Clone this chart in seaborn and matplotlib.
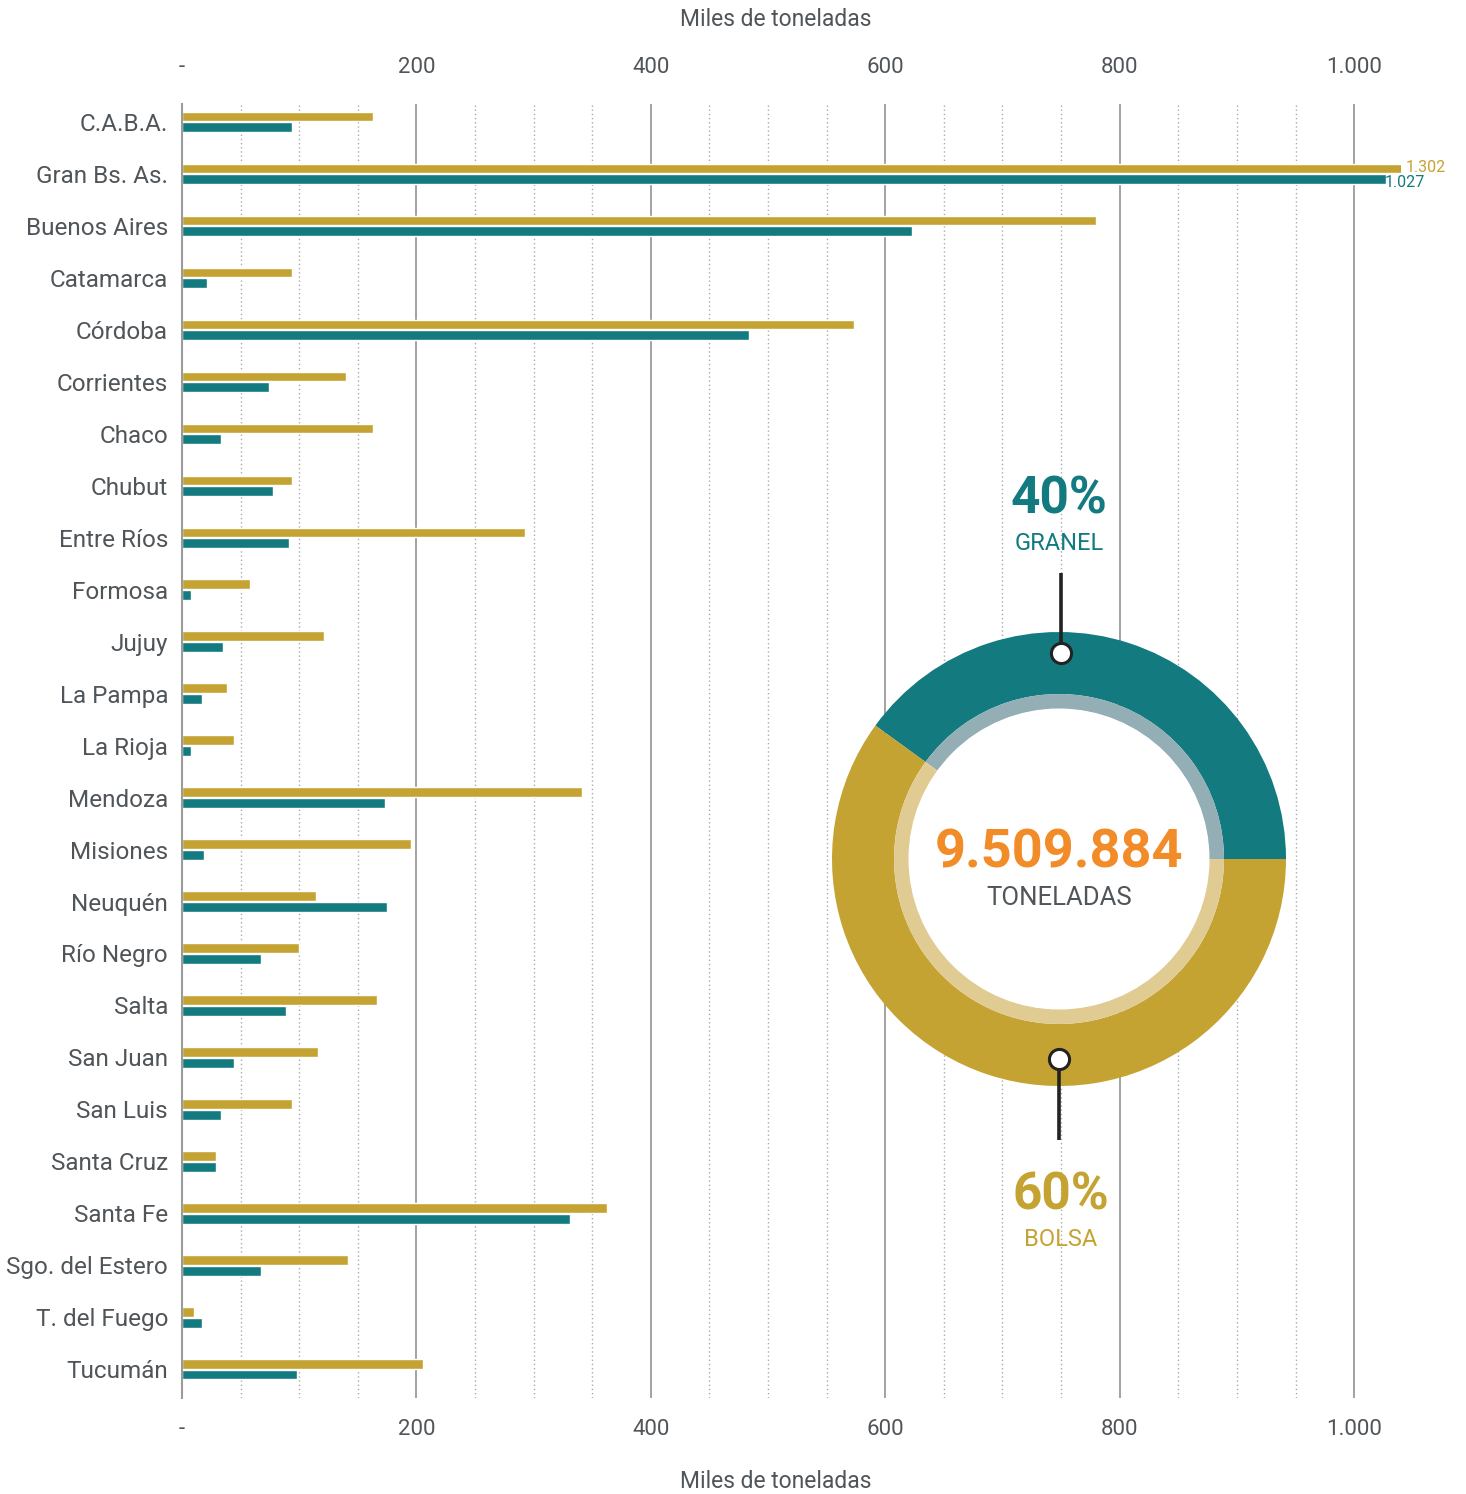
import numpy as np
import pandas as pd
import matplotlib
matplotlib.use("Agg")
import matplotlib.pyplot as plt
import seaborn as sns
from matplotlib.ticker import FixedLocator, MultipleLocator
from matplotlib.patches import Circle

# ---------------- data ----------------
provincias = ["C.A.B.A.", "Gran Bs. As.", "Buenos Aires", "Catamarca", "Córdoba",
              "Corrientes", "Chaco", "Chubut", "Entre Ríos", "Formosa", "Jujuy",
              "La Pampa", "La Rioja", "Mendoza", "Misiones", "Neuquén", "Río Negro",
              "Salta", "San Juan", "San Luis", "Santa Cruz", "Santa Fe",
              "Sgo. del Estero", "T. del Fuego", "Tucumán"]
bolsa = [163, 1302, 780, 94, 573, 140, 163, 94, 293, 58, 121, 38, 44, 341, 195,
         114, 100, 166, 116, 94, 29, 363, 142, 10, 206]
granel = [94, 1027, 623, 21, 484, 74, 33, 78, 91, 8, 35, 17, 8, 173, 19,
          175, 67, 89, 44, 33, 29, 331, 67, 17, 98]
x_ticks = [0, 200, 400, 600, 800, 1000]
x_tick_labels = ["-", "200", "400", "600", "800", "1.000"]
axis_label = "Miles de toneladas"
donut_labels = ["GRANEL", "BOLSA"]
donut_shares = [40, 60]
total_label = "9.509.884"
total_unit = "TONELADAS"

GOLD = "#C5A332"
TEAL = "#137A80"
GOLD_L = "#E0CB93"
TEAL_L = "#93AFB5"
ORANGE = "#F28C28"
TXT = "#505559"

sns.set_theme(style="white")
plt.rcParams['font.family'] = ['Roboto', 'DejaVu Sans']

W, H = 1466, 1494
fig = plt.figure(figsize=(W / 100, H / 100), dpi=100)
fig.patch.set_facecolor("white")

ax = fig.add_axes([182 / W, 1 - 1398 / H, (1401 - 182) / W, (1398 - 104) / H])

df = pd.DataFrame({
    "provincia": provincias * 2,
    "tipo": ["Bolsa"] * len(provincias) + ["Granel"] * len(provincias),
    "valor": bolsa + granel,
})
sns.barplot(data=df, y="provincia", x="valor", hue="tipo", hue_order=["Bolsa", "Granel"],
            palette=[GOLD, TEAL], orient="h", width=0.4, gap=0.06, saturation=1,
            legend=False, ax=ax, order=provincias)

ax.set_xlim(0, 1040)
ax.set_ylim(24.55, -0.34)
ax.set_axisbelow(True)
ax.xaxis.set_major_locator(FixedLocator(x_ticks))
ax.xaxis.set_minor_locator(MultipleLocator(50))
ax.grid(which="major", axis="x", color="#9b9b9b", lw=1.3, ls="-")
ax.grid(which="minor", axis="x", color="#ababab", lw=1.0, ls=(0, (1, 2)))
ax.grid(which="both", axis="y", visible=False)
for s in ["top", "right", "bottom"]:
    ax.spines[s].set_visible(False)
ax.spines["left"].set_color("#9b9b9b")
ax.spines["left"].set_linewidth(1.5)

ax.set_xticks(x_ticks)
ax.set_xticklabels(x_tick_labels)
ax.set_xlabel("")
ax.set_ylabel("")
ax.tick_params(axis="x", which="both", length=0, labelsize=16, labelcolor=TXT, pad=15)
ax.tick_params(axis="y", length=0, labelsize=17.5, labelcolor=TXT, pad=10)

sec = ax.secondary_xaxis("top")
sec.set_xticks(x_ticks)
sec.set_xticklabels(x_tick_labels)
sec.tick_params(axis="x", length=0, labelsize=16, labelcolor=TXT, pad=19)
sec.spines["top"].set_visible(False)

fig.text(776 / W, 1 - 19 / H, axis_label, ha="center", va="center", fontsize=16.5, color=TXT)
fig.text(776 / W, 1 - 1481 / H, axis_label, ha="center", va="center", fontsize=16.5, color=TXT)

# value labels for the clipped bars (Gran Bs. As.)
i = 1
fmt = lambda v: f"{v:,}".replace(",", ".")
ax.text(1044, i - 0.12, fmt(bolsa[i]), color=GOLD, fontsize=11.5, va="center", ha="left", clip_on=False)
ax.text(granel[i] - 1.0, i + 0.17, fmt(granel[i]), color=TEAL, fontsize=11.5, va="center", ha="left", clip_on=False)

# ---------------- donut ----------------
dax = fig.add_axes([820 / W, 1 - 1270 / H, 480 / W, 810 / H])
dax.pie(donut_shares, colors=[TEAL, GOLD], startangle=0, counterclock=True, radius=227,
        wedgeprops=dict(width=62, linewidth=0))
dax.pie(donut_shares, colors=[TEAL_L, GOLD_L], startangle=0, counterclock=True, radius=165,
        wedgeprops=dict(width=15, linewidth=0))
dax.add_patch(Circle((0, 0), 150.5, facecolor="white", edgecolor="none"))
dax.set_xlim(-239, 241)
dax.set_ylim(-411, 399)
dax.set_aspect("auto")
dax.axis("off")

dax.plot([2, 2], [206, 286], color="#222222", lw=2.6, solid_capstyle="butt", zorder=5)
dax.plot([0, 0], [-200, -281], color="#222222", lw=2.6, solid_capstyle="butt", zorder=5)
dax.plot([2], [206], marker="o", ms=14.5, mfc="white", mec="#222222", mew=2.2, zorder=6)
dax.plot([0], [-200], marker="o", ms=14.5, mfc="white", mec="#222222", mew=2.2, zorder=6)

dax.text(0, 360, f"{donut_shares[0]}%", ha="center", va="center", fontsize=37,
         fontweight="bold", color=TEAL)
dax.text(0, 316, donut_labels[0], ha="center", va="center", fontsize=17, color=TEAL)
dax.text(2, -336, f"{donut_shares[1]}%", ha="center", va="center", fontsize=37,
         fontweight="bold", color=GOLD)
dax.text(2, -380, donut_labels[1], ha="center", va="center", fontsize=17, color=GOLD)
dax.text(0, 6, total_label, ha="center", va="center", fontsize=39, fontweight="bold", color=ORANGE)
dax.text(0, -39, total_unit, ha="center", va="center", fontsize=18.5, color=TXT)

fig.savefig("out.png", dpi=100, facecolor="white")
